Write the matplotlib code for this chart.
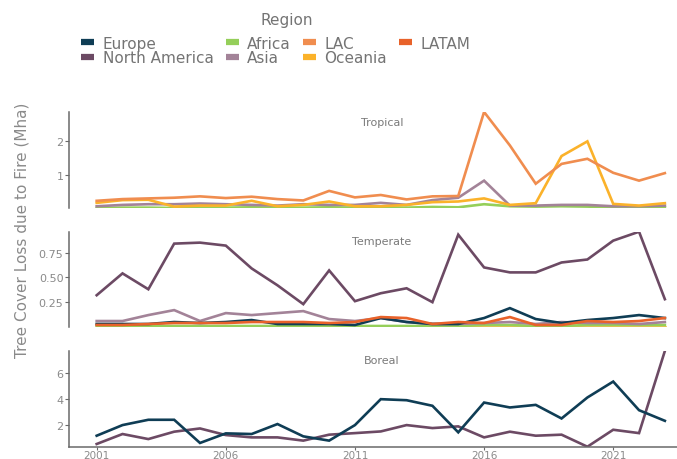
import matplotlib
matplotlib.use("Agg")
import matplotlib.pyplot as plt
from matplotlib.lines import Line2D

plt.rcParams["font.family"] = ["DejaVu Sans"]

years = list(range(2001, 2024))

# ── Tropical ────────────────────────────────────────────────────────────────
trop_lac = [0.24, 0.29, 0.31, 0.33, 0.37, 0.32, 0.36, 0.29, 0.25, 0.53, 0.34, 0.41,
            0.28, 0.37, 0.38, 2.84, 1.86, 0.74, 1.32, 1.47, 1.06, 0.83, 1.05]
trop_oceania = [0.18, 0.26, 0.27, 0.07, 0.10, 0.10, 0.24, 0.08, 0.12, 0.22, 0.08, 0.08,
                0.12, 0.20, 0.22, 0.31, 0.12, 0.17, 1.55, 1.98, 0.15, 0.10, 0.17]
trop_asia = [0.08, 0.12, 0.14, 0.14, 0.16, 0.14, 0.12, 0.10, 0.14, 0.12, 0.12, 0.18,
             0.12, 0.26, 0.33, 0.83, 0.10, 0.10, 0.12, 0.12, 0.08, 0.08, 0.10]
trop_africa = [0.03, 0.04, 0.04, 0.03, 0.04, 0.04, 0.05, 0.04, 0.04, 0.05, 0.04, 0.05,
               0.04, 0.06, 0.05, 0.14, 0.08, 0.07, 0.08, 0.07, 0.05, 0.04, 0.05]

# ── Temperate ───────────────────────────────────────────────────────────────
temp_na = [0.32, 0.54, 0.38, 0.84, 0.85, 0.82, 0.59, 0.42, 0.23, 0.57, 0.26, 0.34,
           0.39, 0.25, 0.93, 0.60, 0.55, 0.55, 0.65, 0.68, 0.87, 0.96, 0.28]
temp_asia = [0.06, 0.06, 0.12, 0.17, 0.06, 0.14, 0.12, 0.14, 0.16, 0.08, 0.06, 0.09,
             0.05, 0.03, 0.03, 0.04, 0.05, 0.03, 0.05, 0.04, 0.04, 0.03, 0.05]
temp_europe = [0.03, 0.03, 0.03, 0.05, 0.04, 0.05, 0.07, 0.03, 0.03, 0.03, 0.02, 0.09,
               0.05, 0.03, 0.03, 0.09, 0.19, 0.08, 0.04, 0.07, 0.09, 0.12, 0.09]
temp_latam = [0.02, 0.02, 0.03, 0.04, 0.04, 0.04, 0.05, 0.05, 0.05, 0.04, 0.05, 0.10,
              0.09, 0.03, 0.05, 0.04, 0.10, 0.02, 0.02, 0.06, 0.05, 0.06, 0.09]
temp_africa = [0.01, 0.01, 0.01, 0.01, 0.01, 0.01, 0.01, 0.01, 0.01, 0.01, 0.01, 0.01,
               0.01, 0.01, 0.01, 0.02, 0.02, 0.01, 0.01, 0.02, 0.02, 0.02, 0.02]
temp_oceania = [0.0, 0.0, 0.0, 0.0, 0.0, 0.0, 0.0, 0.0, 0.0, 0.0, 0.0, 0.0,
                0.0, 0.0, 0.0, 0.0, 0.0, 0.0, 0.0, 0.0, 0.0, 0.0, 0.0]

# ── Boreal ──────────────────────────────────────────────────────────────────
bor_europe = [1.18, 2.00, 2.41, 2.41, 0.62, 1.36, 1.31, 2.08, 1.13, 0.80, 2.00, 4.00,
              3.92, 3.49, 1.44, 3.74, 3.36, 3.56, 2.51, 4.13, 5.36, 3.15, 2.33]
bor_na = [0.54, 1.31, 0.92, 1.49, 1.74, 1.23, 1.05, 1.05, 0.80, 1.26, 1.38, 1.51,
          2.00, 1.77, 1.90, 1.05, 1.49, 1.18, 1.26, 0.33, 1.64, 1.38, 7.72]

regions = ["Europe", "North America", "Africa", "Asia", "LAC", "Oceania", "LATAM"]
colors = {
    "Europe": "#0f3d55",
    "North America": "#6c4a64",
    "Africa": "#95cf5a",
    "Asia": "#a38398",
    "LAC": "#f08d4f",
    "Oceania": "#fbb22a",
    "LATAM": "#e8622a",
}

panels = [
    ("Tropical", [("Africa", trop_africa), ("Asia", trop_asia), ("Oceania", trop_oceania),
                  ("LAC", trop_lac)], [1, 2], None),
    ("Temperate", [("Oceania", temp_oceania), ("Africa", temp_africa), ("Asia", temp_asia),
                   ("Europe", temp_europe), ("LATAM", temp_latam), ("North America", temp_na)],
     [0.25, 0.5, 0.75], ["0.25", "0.50", "0.75"]),
    ("Boreal", [("North America", bor_na), ("Europe", bor_europe)], [2, 4, 6], None),
]

GRAY = "#8a8a8a"
TXT = "#747474"
SPINE = "#6a6a6a"

fig = plt.figure(figsize=(6.77, 4.60), dpi=100)
boxes = [(0.102, 0.5457, 0.898, 0.2087),
         (0.102, 0.2870, 0.898, 0.2071),
         (0.102, 0.0267, 0.898, 0.2081)]
title_y = [0.733, 0.474, 0.215]

for i, ((name, series, yticks, ylabels), box) in enumerate(zip(panels, boxes)):
    ax = fig.add_axes(box)
    allv = []
    for reg, vals in series:
        ax.plot(years, vals, color=colors[reg], lw=1.9, solid_joinstyle="miter")
        allv += vals
    ax.set_ylim(min(allv), max(allv))
    ax.set_xlim(1999.93, 2023.47)
    ax.set_yticks(yticks)
    if ylabels:
        ax.set_yticklabels(ylabels)
    for s in ["top", "right"]:
        ax.spines[s].set_visible(False)
    ax.spines["left"].set_color(SPINE)
    ax.spines["left"].set_linewidth(1.1)
    ax.tick_params(axis="y", colors=SPINE, labelcolor=GRAY, labelsize=8, length=3, width=0.8, pad=1)
    if i < 2:
        ax.spines["bottom"].set_visible(False)
        ax.set_xticks([])
    else:
        ax.spines["bottom"].set_color(SPINE)
        ax.spines["bottom"].set_linewidth(1.1)
        ax.set_xticks([2001, 2006, 2011, 2016, 2021])
        ax.tick_params(axis="x", colors=SPINE, labelcolor=GRAY, labelsize=7.5, length=2, width=0.8, pad=0.3)
    ax.patch.set_alpha(0)
    fig.text(0.564, title_y[i], name, ha="center", va="center", fontsize=8, color="#7a7a7a")

fig.text(0.032, 0.50, "Tree Cover Loss due to Fire (Mha)", rotation=90,
         ha="center", va="center", fontsize=11, color=GRAY)

fig.text(287 / 677, 1 - 20 / 460, "Region", ha="center", va="center", fontsize=11, color=TXT)

handles = [Line2D([0], [0], color=colors[r], lw=4.5, solid_capstyle="butt") for r in regions]
leg = fig.legend(handles, regions, loc="upper left", bbox_to_anchor=(0.120, 0.920),
                 ncol=4, frameon=False, fontsize=11,
                 handlelength=0.85, handletextpad=0.55, columnspacing=0.8, labelspacing=-0.05,
                 borderpad=0.0, borderaxespad=0.0)
for t in leg.get_texts():
    t.set_color(TXT)

fig.savefig("out.png", dpi=100)
